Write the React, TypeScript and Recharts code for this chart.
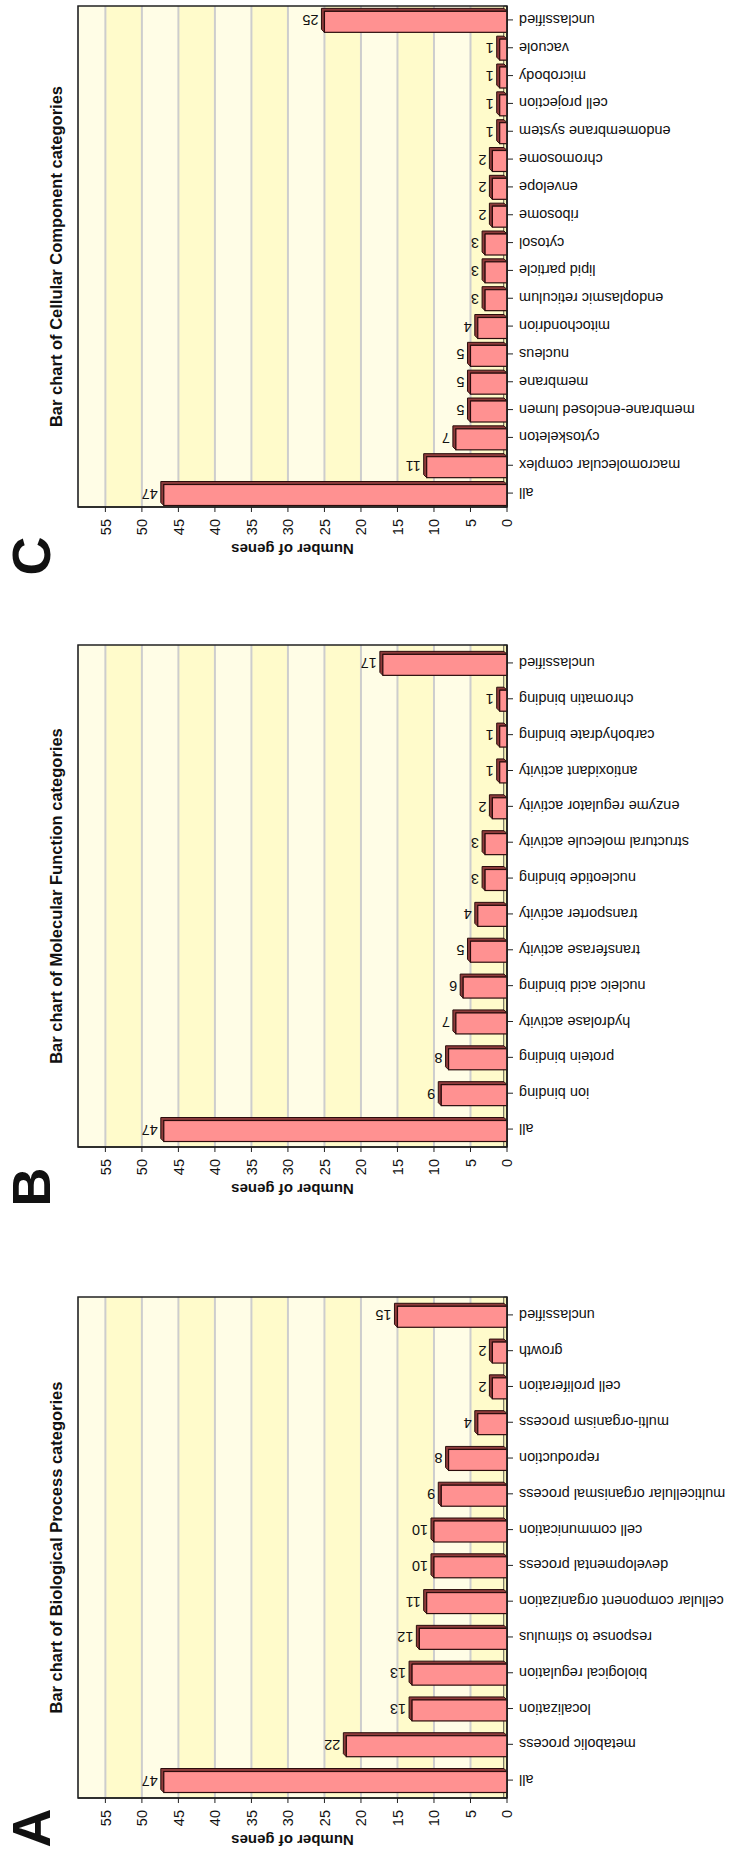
import React from "react";
import {
  BarChart,
  Bar,
  XAxis,
  YAxis,
  CartesianGrid,
  ReferenceArea,
  LabelList,
} from "recharts";

// Biological Process
const bpCategories = [
  "all",
  "metabolic process",
  "localization",
  "biological regulation",
  "response to stimulus",
  "cellular component organization",
  "developmental process",
  "cell communication",
  "multicellular organismal process",
  "reproduction",
  "multi-organism process",
  "cell proliferation",
  "growth",
  "unclassified",
];
const bpValues = [47, 22, 13, 13, 12, 11, 10, 10, 9, 8, 4, 2, 2, 15];

// Molecular Function
const mfCategories = [
  "all",
  "ion binding",
  "protein binding",
  "hydrolase activity",
  "nucleic acid binding",
  "transferase activity",
  "transporter activity",
  "nucleotide binding",
  "structural molecule activity",
  "enzyme regulator activity",
  "antioxidant activity",
  "carbohydrate binding",
  "chromatin binding",
  "unclassified",
];
const mfValues = [47, 9, 8, 7, 6, 5, 4, 3, 3, 2, 1, 1, 1, 17];

// Cellular Component
const ccCategories = [
  "all",
  "macromolecular complex",
  "cytoskeleton",
  "membrane-enclosed lumen",
  "membrane",
  "nucleus",
  "mitochondrion",
  "endoplasmic reticulum",
  "lipid particle",
  "cytosol",
  "ribosome",
  "envelope",
  "chromosome",
  "endomembrane system",
  "cell projection",
  "microbody",
  "vacuole",
  "unclassified",
];
const ccValues = [47, 11, 7, 5, 5, 5, 4, 3, 3, 3, 2, 2, 2, 1, 1, 1, 1, 25];

const valueTicks = [0, 5, 10, 15, 20, 25, 30, 35, 40, 45, 50, 55];
const valueMax = 58.75;

const FONT = '"Liberation Sans", Arial, Helvetica, sans-serif';
const CREAM = "#fffde6";
const YELLOW = "#fffbcb";

// layout of the unrotated figure (1854 x 730), it gets turned 90deg ccw
const PLOT_TOP = 78;
const PLOT_BOTTOM = 507;
const AXIS_W = 56;

const Bar3D = (props: any) => {
  const { x, y, width, height } = props;
  if (!height || !width) return null;
  const d = 3;
  const fx = x - 1.5;
  const top = y;
  const bottom = y + height;
  return (
    <g>
      <polygon
        points={`${fx},${top} ${fx + d},${top - d} ${fx + width + d},${top - d} ${fx + width + d},${bottom - d} ${fx + width},${bottom} ${fx + width},${top}`}
        fill="#8e3b3b"
        stroke="#2b0d0d"
        strokeWidth={1}
      />
      <rect x={fx} y={top} width={width} height={height} fill="#ff9191" stroke="#2b0d0d" strokeWidth={1.2} />
    </g>
  );
};

const ValueLabel = (props: any) => {
  const vb = props.viewBox && props.viewBox.width != null ? props.viewBox : props;
  const cx = vb.x + vb.width / 2;
  const ty = vb.y - 6;
  return (
    <text
      x={cx}
      y={ty}
      transform={`rotate(-90 ${cx} ${ty})`}
      textAnchor="start"
      dominantBaseline="central"
      fontSize={14.5}
      fill="#111"
      fontFamily={FONT}
    >
      {props.value}
    </text>
  );
};

const CategoryTick = (props: any) => {
  const { x, y, payload } = props;
  return (
    <text
      x={x}
      y={y}
      transform={`rotate(-90 ${x} ${y})`}
      textAnchor="end"
      dominantBaseline="central"
      fontSize={14.5}
      fill="#111"
      fontFamily={FONT}
    >
      {payload.value}
    </text>
  );
};

const AxisTitle = () => {
  const plotH = PLOT_BOTTOM - PLOT_TOP;
  const cx = 14;
  const cy = 2 + plotH / 2;
  return (
    <text
      x={cx}
      y={cy}
      transform={`rotate(-90 ${cx} ${cy})`}
      textAnchor="middle"
      dominantBaseline="central"
      fontSize={15}
      fontWeight={700}
      fill="#111"
      fontFamily={FONT}
    >
      Number of genes
    </text>
  );
};

interface PanelProps {
  letter: string;
  title: string;
  categories: string[];
  values: number[];
  plotLeft: number;
  plotWidth: number;
  letterCenter: number;
}

const Panel: React.FC<PanelProps> = ({ letter, title, categories, values, plotLeft, plotWidth, letterCenter }) => {
  const data = categories.map((name, i) => ({ name, value: values[i] }));
  const chartH = 730 - PLOT_TOP + 2;
  const axisH = chartH - 2 - (PLOT_BOTTOM - PLOT_TOP);
  return (
    <>
      <div
        style={{
          position: "absolute",
          left: letterCenter - 40,
          width: 80,
          top: 4,
          textAlign: "center",
          fontSize: 54,
          fontWeight: 700,
          lineHeight: 1,
        }}
      >
        {letter}
      </div>
      <div
        style={{
          position: "absolute",
          left: plotLeft - 40,
          width: plotWidth + 80,
          top: 48,
          textAlign: "center",
          fontSize: 16.5,
          fontWeight: 700,
          lineHeight: 1,
          whiteSpace: "nowrap",
          color: "#111",
        }}
      >
        {title}
      </div>
      <div style={{ position: "absolute", left: plotLeft - AXIS_W, top: PLOT_TOP - 2 }}>
        <BarChart
          width={AXIS_W + plotWidth + 6}
          height={chartH}
          data={data}
          margin={{ top: 2, right: 6, bottom: 0, left: 0 }}
          barSize={21}
        >
          <CartesianGrid vertical={false} stroke="#cdcdcd" strokeWidth={2} horizontalFill={[CREAM, YELLOW]} />
          <XAxis
            dataKey="name"
            type="category"
            interval={0}
            height={axisH}
            axisLine={{ stroke: "#222", strokeWidth: 1.5 }}
            tickLine={{ stroke: "#222" }}
            tickSize={6}
            tickMargin={6}
            tick={<CategoryTick />}
          />
          <YAxis
            type="number"
            domain={[0, valueMax]}
            ticks={valueTicks}
            width={AXIS_W}
            axisLine={{ stroke: "#222", strokeWidth: 1.5 }}
            tickLine={{ stroke: "#222" }}
            tickSize={5}
            tickMargin={7}
            tick={{ fontSize: 14.5, fill: "#111", fontFamily: FONT }}
            label={<AxisTitle />}
          />
          {/* thin 3d floor along the base */}
          <ReferenceArea y1={0} y2={0.45} fill="#f4eca6" stroke="#333" strokeWidth={0.8} />
          <ReferenceArea y1={0} y2={valueMax} fill="none" stroke="#222" strokeWidth={1.5} />
          <Bar dataKey="value" shape={<Bar3D />} isAnimationActive={false}>
            <LabelList dataKey="value" content={<ValueLabel />} />
          </Bar>
        </BarChart>
      </div>
    </>
  );
};

export default function App() {
  return (
    <div
      style={{
        position: "absolute",
        left: 0,
        top: 0,
        width: 730,
        height: 1854,
        overflow: "hidden",
        background: "#fff",
      }}
    >
      <div
        style={{
          position: "absolute",
          left: 0,
          top: 0,
          width: 1854,
          height: 730,
          transformOrigin: "0 0",
          transform: "translateY(1854px) rotate(-90deg)",
          fontFamily: FONT,
          color: "#111",
        }}
      >
        <Panel
          letter="A"
          title="Bar chart of Biological Process categories"
          categories={bpCategories}
          values={bpValues}
          plotLeft={56}
          plotWidth={501}
          letterCenter={26}
        />
        <Panel
          letter="B"
          title="Bar chart of Molecular Function categories"
          categories={mfCategories}
          values={mfValues}
          plotLeft={707}
          plotWidth={502}
          letterCenter={667}
        />
        <Panel
          letter="C"
          title="Bar chart of Cellular Component categories"
          categories={ccCategories}
          values={ccValues}
          plotLeft={1347}
          plotWidth={501}
          letterCenter={1298}
        />
      </div>
    </div>
  );
}
